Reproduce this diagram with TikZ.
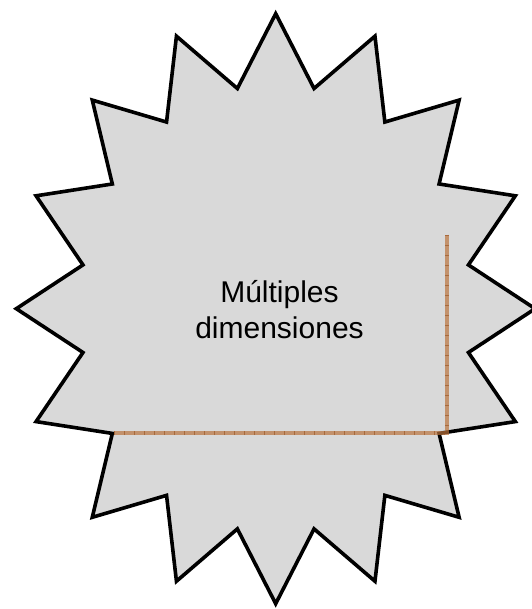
\documentclass[tikz,border=0pt]{standalone}
\usepackage{fontspec}
\setmainfont{Liberation Sans}
\usepackage{tikz}

\definecolor{relleno}{RGB}{217,217,217}
\definecolor{cobre}{RGB}{187,116,62}
\definecolor{cobreosc}{RGB}{150,80,30}

\begin{document}
\begin{tikzpicture}[x=1pt,y=-1pt]
% Parámetros de la estrella (centro y radios exterior/interior)
\def\cx{275.7}
\def\cy{308.7}
\def\rxa{259.4}
\def\rya{295}
\def\rxb{196.5}
\def\ryb{224.5}

\useasboundingbox (0,0) rectangle (531,609);

% Estrella de 16 puntas
\draw[line width=3.6pt,fill=relleno]
plot[samples at={0,...,31},variable=\k]
  ({\cx + ifthenelse(iseven(\k),\rxa,\rxb)*sin(11.25*\k)},
   {\cy - ifthenelse(iseven(\k),\rya,\ryb)*cos(11.25*\k)}) -- cycle;

% Texto central
\node[align=center,font=\fontsize{30}{36}\selectfont] (texto) at (279.5,310)
  {Múltiples\\dimensiones};

% Trazo en L
\coordinate (arriba) at (447,235);
\coordinate (esquina) at (447,433);
\coordinate (izquierda) at (114,433);
\draw[cobre,opacity=0.7,line width=3.5pt] (arriba) -- (esquina) -- (izquierda);
\draw[cobreosc,opacity=0.6,line width=3.5pt,dash pattern=on 1pt off 9pt]
  (arriba) -- (esquina) -- (izquierda);
\end{tikzpicture}
\end{document}
